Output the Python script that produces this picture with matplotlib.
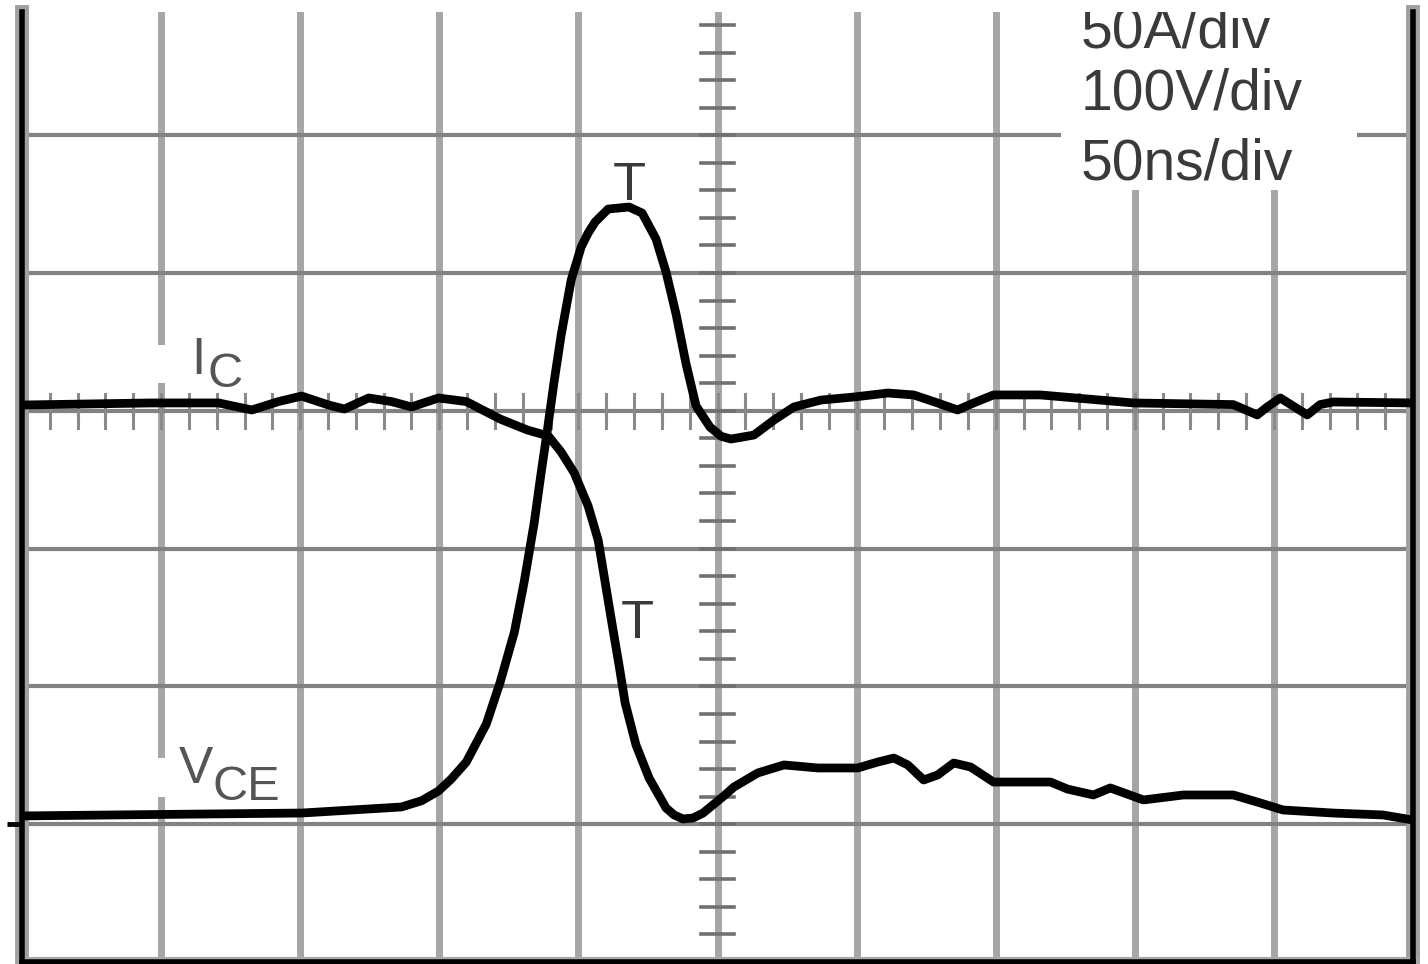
import numpy as np
from matplotlib import pyplot as plt
from matplotlib.patches import Rectangle

# ------------------------------------------------------------------
# Traces: time in ns (50 ns/div, 0 = centre),
# amplitude in screen divisions from the bottom edge
# ------------------------------------------------------------------
vce_t = [-250.0, -203.3, -149.5, -113.6, -106.4, -100.3, -95.7, -90.3, -83.1,
         -78.1, -73.0, -69.5, -65.9, -63.4, -61.2, -58.7, -56.2, -52.6, -49.0,
         -46.5, -44.0, -39.3, -31.8, -27.1, -22.1, -18.5, -14.9, -11.3, -7.7,
         -2.7, 1.3, 4.8, 13.1, 20.3, 27.5, 37.2, 49.0, 61.2, 70.5, 79.1, 86.3,
         92.1, 99.2, 116.1, 149.5, 185.4, 194.0, 197.6, 202.3, 212.0, 216.6,
         221.3, 250.0]
vce_div = [1.060, 1.070, 1.081, 1.125, 1.170, 1.241, 1.328, 1.451, 1.727,
           2.032, 2.395, 2.758, 3.186, 3.549, 3.853, 4.216, 4.550, 4.949, 5.189,
           5.290, 5.370, 5.464, 5.479, 5.435, 5.247, 5.007, 4.702, 4.340, 4.035,
           3.882, 3.815, 3.795, 3.824, 3.933, 4.028, 4.078, 4.100, 4.129, 4.115,
           4.057, 4.006, 4.057, 4.115, 4.115, 4.057, 4.045, 3.970, 4.028, 4.093,
           3.970, 4.045, 4.064, 4.057]

ic_t = [-250.0, -203.3, -179.3, -167.4, -157.8, -149.5, -139.8, -134.1, -125.4,
        -117.2, -110.0, -100.3, -90.3, -78.1, -68.4, -60.8, -56.2, -51.5, -46.5,
        -42.9, -40.4, -37.9, -35.4, -33.2, -29.3, -24.6, -18.5, -15.6, -12.4,
        -8.8, -5.2, 2.3, 5.9, 14.5, 23.9, 36.1, 50.4, 57.6, 63.4, 68.4, 74.1,
        79.1, 84.9, 91.0, 99.2, 119.7, 125.8, 135.1, 141.2, 153.1, 167.4, 185.4,
        194.0, 203.3, 221.3, 239.2, 250.0]
ic_div = [4.042, 4.057, 4.057, 4.006, 4.067, 4.107, 4.042, 4.013, 4.093,
          4.067, 4.028, 4.093, 4.067, 3.940, 3.861, 3.817, 3.701, 3.549, 3.309,
          3.062, 2.758, 2.453, 2.155, 1.880, 1.575, 1.335, 1.118, 1.067, 1.038,
          1.045, 1.081, 1.205, 1.270, 1.372, 1.430, 1.408, 1.408, 1.451, 1.480,
          1.430, 1.321, 1.357, 1.444, 1.415, 1.306, 1.306, 1.255, 1.212, 1.263,
          1.176, 1.212, 1.212, 1.161, 1.103, 1.081, 1.067, 1.030]

scale_lines = ['50A/div', '100V/div', '50ns/div']

W, H = 1428, 964
fig = plt.figure(figsize=(W/100, H/100), dpi=100)
ax = fig.add_axes([22/W, 2/H, 1391/W, 950/H])
ax.set_xlim(-250, 250)
ax.set_ylim(0, 6.894)
ax.set_xticks([])
ax.set_yticks([])
ax.spines['top'].set_visible(False)
for s in ['left', 'right', 'bottom']:
    ax.spines[s].set_color('black')
    ax.spines[s].set_linewidth(4.0)

# graticule
for t in range(-200, 201, 50):
    ax.axvline(t, color='#a6a6a6', lw=5.0, zorder=1)
for y in range(1, 7):
    ax.axhline(y, color='#828282', lw=3.0, zorder=1)
for x in [-250, 250]:
    ax.axvline(x, color='#a0a0a0', lw=10, zorder=1, clip_on=False)
ax.axhline(0, color='#a8a8a8', lw=8, zorder=1, clip_on=False)

# minor ticks on the centre axes
for t in np.arange(-240, 250, 10):
    ax.plot([t, t], [3.875, 4.125], color='#8a8a8a', lw=2.2, zorder=1.2)
for y in np.arange(0.2, 6.9, 0.2):
    ax.plot([-6.1, 6.1], [y, y], color='#707070', lw=2.6, zorder=1.2)

# ground marker at left edge
ax.plot([-255.5, -250], [1.0, 1.0], color='black', lw=3.5, clip_on=False,
        solid_capstyle='butt')

# white backing behind labels
ax.add_patch(Rectangle((123.3, 5.60), 106.6, 1.4, facecolor='white',
                       edgecolor='none', zorder=1.5))
ax.add_patch(Rectangle((-202.6, 4.20), 35.2, 0.28, facecolor='white',
                       edgecolor='none', zorder=1.5))
ax.add_patch(Rectangle((-202.6, 1.20), 47.8, 0.28, facecolor='white',
                       edgecolor='none', zorder=1.5))

# traces
ax.plot(vce_t, vce_div, color='black', lw=6.3, solid_joinstyle='round',
        solid_capstyle='round', zorder=3)
ax.plot(ic_t, ic_div, color='black', lw=6.3, solid_joinstyle='round',
        solid_capstyle='round', zorder=3)

fam = ['Liberation Sans', 'DejaVu Sans']
tc = '#3a3a3a'
for s, yb in zip(scale_lines, [6.640, 6.183, 5.675]):
    ax.text(130.5, yb, s, fontsize=41, family=fam, color=tc,
            ha='left', va='baseline', clip_on=True, zorder=2)

ax.text(-189.0, 4.267, 'I', fontsize=37, family=fam, color='#555555',
        va='baseline', zorder=2)
ax.text(-183.2, 4.173, 'C', fontsize=35, family=fam, color='#555555',
        va='baseline', zorder=2)
ax.text(-193.6, 1.299, 'V', fontsize=37, family=fam, color='#555555',
        va='baseline', zorder=2)
ax.text(-181.4, 1.176, 'CE', fontsize=35, family=fam, color='#555555',
        va='baseline', zorder=2)
ax.text(-31.8, 5.530, 'T', fontsize=39, family=fam, color=tc,
        ha='center', va='baseline', zorder=2)
ax.text(-28.9, 2.351, 'T', fontsize=39, family=fam, color=tc,
        ha='center', va='baseline', zorder=2)

fig.savefig('out.png', dpi=100, facecolor='white')
